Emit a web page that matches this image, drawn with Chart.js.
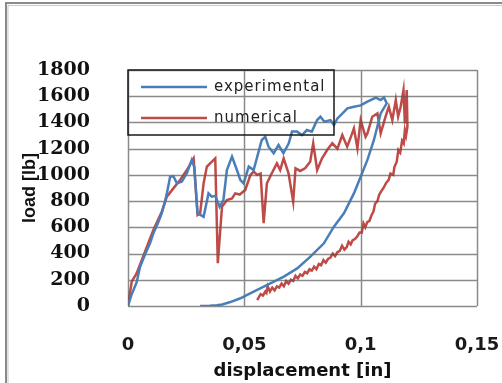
<!DOCTYPE html>
<html>
<head>
<meta charset="utf-8">
<script src="https://cdn.jsdelivr.net/npm/chart.js@4"></script>
<style>
    html, body { margin: 0; padding: 0; background: #ffffff; }
    #wrap { width: 502px; height: 383px; position: relative; }
</style>
</head>
<body>
<div id="wrap"><canvas id="loadChart" width="502" height="383"></canvas></div>
<script>
// experimental: loading then unloading
const expX = [
    0, 0.0016, 0.0037, 0.0052, 0.0075, 0.0095, 0.0109, 0.0128, 0.0145, 0.0158, 0.0167, 0.0175, 0.0181, 0.0195,
    0.021, 0.0231, 0.0253, 0.0274, 0.0285, 0.0299, 0.0325, 0.0346, 0.036, 0.0375, 0.0394, 0.041, 0.0425,
    0.0447, 0.0468, 0.0483, 0.0497, 0.0519, 0.054, 0.0575, 0.059, 0.0604, 0.0626, 0.0647, 0.0668, 0.0691,
    0.0705, 0.0726, 0.0748, 0.0769, 0.079, 0.0813, 0.0827, 0.0844, 0.087, 0.0885, 0.09, 0.0922, 0.0943,
    0.0971, 0.1, 0.1029, 0.1065, 0.1086, 0.11, 0.1112,
    0.1086, 0.1057, 0.1029, 0.1, 0.0971, 0.0928, 0.0885, 0.0842, 0.0784, 0.0727, 0.067, 0.0612, 0.054,
    0.0483, 0.044, 0.0405, 0.0382, 0.035, 0.031
];
const expY = [
    0, 90, 180, 300, 400, 480, 554, 630, 707, 790, 859, 930, 986, 990,
    936, 948, 1012, 1114, 1060, 707, 681, 859, 834, 840, 757, 808, 1037,
    1139, 1037, 961, 936, 1063, 1037, 1266, 1291, 1215, 1165, 1228, 1165, 1241,
    1330, 1330, 1304, 1342, 1330, 1418, 1444, 1406, 1418, 1380, 1431, 1470, 1508,
    1520, 1530, 1558, 1590, 1571, 1590, 1546,
    1469, 1266, 1114, 986, 859, 707, 605, 478, 376, 287, 224, 173, 109,
    59, 30, 12, 5, 2, 0
];

// numerical: loading then unloading
const numX = [
    0, 0.0016, 0.0037, 0.0073, 0.0109, 0.0145, 0.0167, 0.0195, 0.0224, 0.0253, 0.0282, 0.0299, 0.031,
    0.0325, 0.0339, 0.0375, 0.0386, 0.0404, 0.0425, 0.0447, 0.0461, 0.048, 0.0504, 0.0526, 0.054, 0.0555,
    0.057, 0.0583, 0.0597, 0.0618, 0.064, 0.0654, 0.0669, 0.069, 0.071, 0.072, 0.074, 0.0761, 0.0783,
    0.0796, 0.0813, 0.0834, 0.0856, 0.0878, 0.09, 0.0921, 0.0942, 0.0958, 0.0971, 0.0986, 0.1, 0.1021,
    0.1029, 0.105, 0.1072, 0.1086, 0.1107, 0.1121, 0.1136, 0.1151, 0.1161, 0.1172, 0.1184, 0.119, 0.1198, 0.1201,
    0.1195, 0.119, 0.1185, 0.1178, 0.117, 0.1162, 0.1155, 0.1145, 0.114, 0.1128, 0.112, 0.111, 0.1098, 0.109,
    0.108, 0.1072, 0.1062, 0.1055, 0.1046, 0.1038, 0.1028, 0.102, 0.1012, 0.1005, 0.0995, 0.0985, 0.0975,
    0.0965, 0.0957, 0.0948, 0.094, 0.093, 0.092, 0.091, 0.09, 0.089, 0.088, 0.087, 0.086, 0.085, 0.084,
    0.083, 0.082, 0.081, 0.08, 0.079, 0.078, 0.077, 0.076, 0.075, 0.074, 0.073, 0.072, 0.071, 0.07, 0.069,
    0.068, 0.067, 0.066, 0.065, 0.064, 0.063, 0.062, 0.061, 0.06, 0.0595, 0.059, 0.058, 0.057, 0.056, 0.0555
];
const numY = [
    0, 186, 249, 414, 580, 719, 834, 897, 961, 1037, 1126, 694, 707,
    936, 1063, 1126, 326, 757, 808, 820, 859, 850, 885, 999, 1025, 1000,
    1010, 631, 936, 1012, 1088, 1037, 1126, 1012, 796, 1050, 1030, 1050, 1101,
    1241, 1037, 1126, 1190, 1241, 1200, 1304, 1215, 1290, 1355, 1203, 1418, 1291,
    1316, 1444, 1469, 1316, 1444, 1520, 1418, 1571, 1444, 1520, 1647, 1393, 1647, 1367,
    1300, 1340, 1240, 1260, 1170, 1190, 1100, 1060, 1000, 1010, 960, 940, 900, 880,
    850, 800, 780, 720, 690, 650, 640, 600, 630, 560, 560, 530, 510,
    500, 470, 490, 450, 430, 460, 420, 410, 380, 400, 370, 360, 330, 350,
    310, 320, 280, 300, 270, 280, 250, 260, 230, 240, 210, 230, 190, 200, 170,
    190, 150, 170, 140, 150, 120, 140, 110, 150, 100, 110, 80, 90, 60, 46
];

const seriesNames = ["experimental", "numerical"];
const seriesColors = ["#4a7ebb", "#be4b48"];

const xTicks = [0, 0.05, 0.1, 0.15];
const yTicks = [0, 200, 400, 600, 800, 1000, 1200, 1400, 1600, 1800];

function toPoints(xs, ys)
{
    return xs.map((x, i) => ({ x: x, y: ys[i] }));
}

// outer frame of the picture
const framePlugin = {
    id: "frame",
    beforeDraw(chart)
    {
        const c = chart.ctx;
        c.save();
        c.strokeStyle = "#8a8a8a";
        c.lineWidth = 2;
        c.beginPath();
        c.moveTo(6, 383);
        c.lineTo(6, 3);
        c.lineTo(502, 3);
        c.stroke();
        c.strokeStyle = "#c8c8c8";
        c.lineWidth = 1;
        c.beginPath();
        c.moveTo(8, 383);
        c.lineTo(8, 5.5);
        c.lineTo(502, 5.5);
        c.stroke();
        c.restore();
    }
};

// grid drawn last, "darken" leaves the curves on top
const tickGrid = {
    id: "tickGrid",
    afterDraw(chart)
    {
        const c = chart.ctx;
        const a = chart.chartArea;
        const xs = chart.scales.x;
        const ys = chart.scales.y;
        c.save();
        c.globalCompositeOperation = "darken";
        c.strokeStyle = "#8a8a8a";
        c.lineWidth = 1.5;
        c.beginPath();
        yTicks.forEach(v => {
            const py = Math.round(ys.getPixelForValue(v)) + 0.5;
            c.moveTo(a.left, py);
            c.lineTo(a.right, py);
        });
        xTicks.forEach(v => {
            const px = Math.round(xs.getPixelForValue(v)) + 0.5;
            c.moveTo(px, a.top);
            c.lineTo(px, a.bottom);
        });
        c.stroke();
        c.restore();
    }
};

// boxed legend sitting inside the plot
const boxLegend = {
    id: "boxLegend",
    afterDraw(chart)
    {
        const c = chart.ctx;
        const a = chart.chartArea;
        const left = a.left, top = a.top;
        c.save();
        c.strokeStyle = "#1a1a1a";
        c.lineWidth = 1.5;
        c.strokeRect(left, top, 206, 65);
        seriesNames.forEach((name, i) => {
            const y = top + 17 + i * 31;
            c.strokeStyle = seriesColors[i];
            c.lineWidth = 2.5;
            c.beginPath();
            c.moveTo(left + 13, y);
            c.lineTo(left + 79, y);
            c.stroke();
            c.fillStyle = "#222222";
            c.font = "15px 'DejaVu Sans'";
            c.textBaseline = "middle";
            c.letterSpacing = "1px";
            c.fillText(name, left + 86, y);
        });
        c.restore();
    }
};

const ctx = document.getElementById("loadChart").getContext("2d");

const loadChart = new Chart(ctx, {
    type: "scatter",
    data: {
        datasets: [
            {
                label: seriesNames[0],
                data: toPoints(expX, expY),
                borderColor: seriesColors[0],
                backgroundColor: seriesColors[0],
                borderWidth: 2.5,
                showLine: true,
                pointRadius: 0,
                tension: 0
            },
            {
                label: seriesNames[1],
                data: toPoints(numX, numY),
                borderColor: seriesColors[1],
                backgroundColor: seriesColors[1],
                borderWidth: 2.5,
                showLine: true,
                pointRadius: 0,
                tension: 0
            }
        ]
    },
    options: {
        responsive: false,
        animation: false,
        layout: {
            padding: { left: 0, top: 70, right: 25, bottom: 0 }
        },
        plugins: {
            legend: { display: false },
            tooltip: { enabled: false }
        },
        scales: {
            x: {
                type: "linear",
                min: xTicks[0],
                max: xTicks[xTicks.length - 1],
                afterBuildTicks: (scale) => {
                    scale.ticks = xTicks.map(v => ({ value: v }));
                },
                afterFit: (scale) => {
                    scale.height = 77;
                    scale.paddingLeft = 0;
                    scale.paddingRight = 0;
                },
                grid: { display: false },
                border: { display: false },
                ticks: {
                    padding: 21,
                    color: "#1a1a1a",
                    font: { family: "'DejaVu Sans'", size: 18, weight: "bold" },
                    callback: (v) => String(Number(v.toFixed(2))).replace(".", ",")
                },
                title: {
                    display: true,
                    text: "displacement [in]",
                    color: "#111111",
                    font: { family: "'DejaVu Sans'", size: 18, weight: "bold" },
                    padding: { top: 0, bottom: 1 }
                }
            },
            y: {
                type: "linear",
                min: yTicks[0],
                max: yTicks[yTicks.length - 1],
                afterBuildTicks: (scale) => {
                    scale.ticks = yTicks.map(v => ({ value: v }));
                },
                afterFit: (scale) => { scale.width = 128; },
                grid: { display: false },
                border: { display: false },
                ticks: {
                    padding: 30,
                    color: "#111111",
                    font: { family: "'DejaVu Serif'", size: 19, weight: "bold" },
                    callback: (v) => String(v)
                },
                title: {
                    display: true,
                    text: "load [lb]",
                    color: "#111111",
                    font: { family: "'Liberation Sans'", size: 18, weight: "bold" },
                    padding: { top: 19, bottom: 0 }
                }
            }
        }
    },
    plugins: [framePlugin, tickGrid, boxLegend]
});
</script>
</body>
</html>
